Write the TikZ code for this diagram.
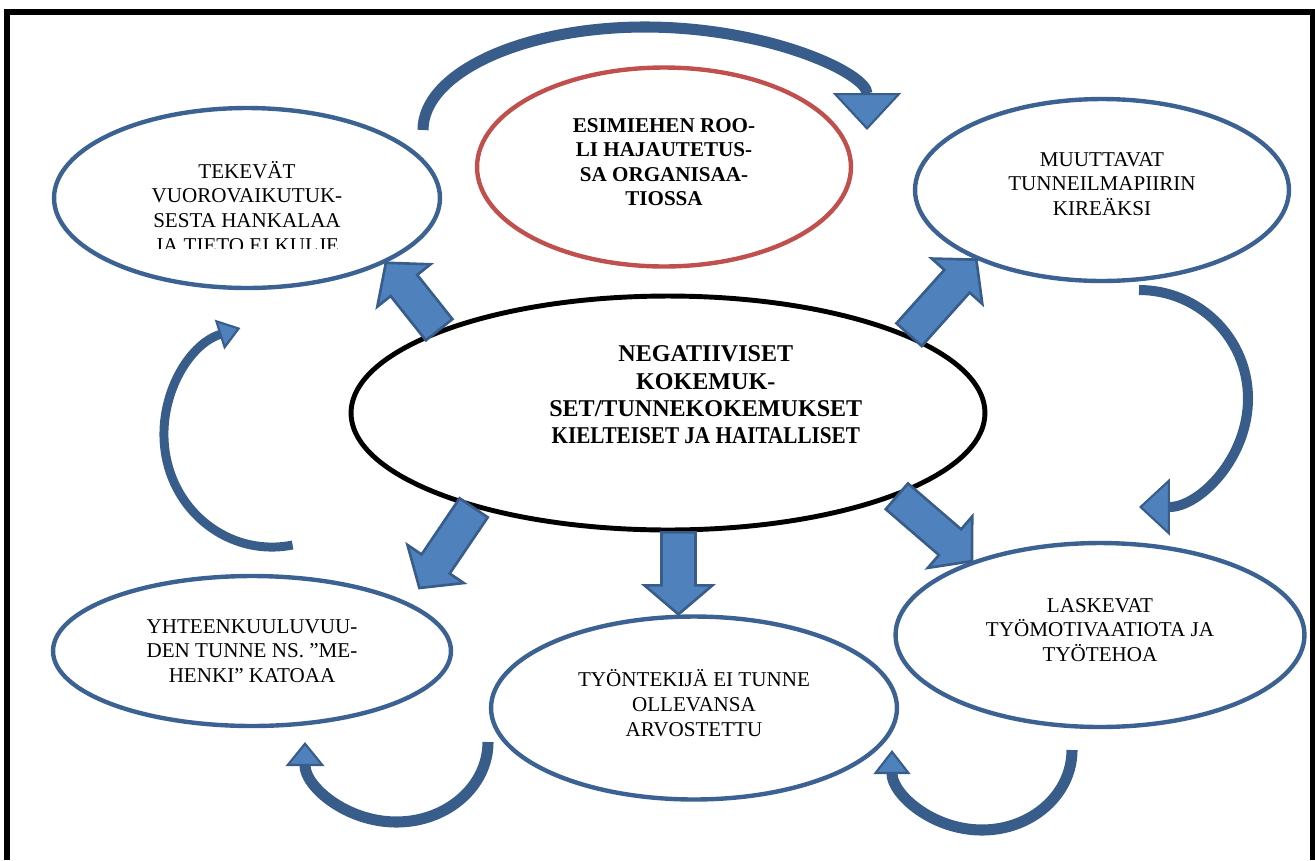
\documentclass[tikz,border=0pt]{standalone}
\usepackage{fontspec}
\setmainfont{Liberation Serif}
\usepackage{tikz}
\usetikzlibrary{shapes.geometric, arrows.meta, calc}

\definecolor{ovalblue}{RGB}{60,98,147}
\definecolor{arrfill}{RGB}{79,129,189}
\definecolor{arredge}{RGB}{56,93,138}
\definecolor{ovalred}{RGB}{192,80,77}

\newcommand{\padtop}[1]{\rule{0pt}{#1}}
\newcommand{\padbot}[1]{\rule[-#1]{0pt}{0pt}}
\newcommand{\padleft}{\hspace*{43pt}}
\newcommand{\blockarrow}[2]{%
  \path (#1) coordinate (ba-t) (#2) coordinate (ba-h);
  \path ($(ba-h)!0.58cm!(ba-t)$) coordinate (ba-b);
  \draw[blockarr] ($(ba-t)!0.34cm!90:(ba-h)$) -- ($(ba-b)!0.34cm!-90:(ba-t)$)
    -- ($(ba-b)!0.68cm!-90:(ba-t)$) -- (ba-h) -- ($(ba-b)!0.68cm!90:(ba-t)$)
    -- ($(ba-b)!0.34cm!90:(ba-t)$) -- ($(ba-t)!0.34cm!-90:(ba-h)$) -- cycle;
}

\begin{document}
\begin{tikzpicture}[x=0.02cm, y=-0.02cm,
    frame/.style={draw=black, line width=3.4pt, line join=miter},
    oval/.style={ellipse, draw=ovalblue, line width=2.5pt, inner sep=0pt, align=center,
      font=\fontsize{12}{14}\selectfont},
    blockarr/.style={fill=arrfill, draw=arredge, line width=1.5pt, line join=miter},
    curvarr/.style n args={3}{draw=arredge, line width=#1,
      -{Triangle[width=#2, length=#3, fill=arrfill, line width=1.2pt]}}]
    \useasboundingbox (0,0) rectangle (1315,860);
    \draw[frame] (7,860) -- (7,12) -- (1313,12) -- (1313,860);

    \node[oval, minimum width=7.72cm, minimum height=3.6cm] (tek) at (247,198)
        {\padtop{19.7pt}TEKEVÄT\\VUOROVAIKUTUK-\\SESTA HANKALAA\\JA TIETO EI KULJE};
    \fill[white] ($(tek.center)+(-110,50.5)$) rectangle ($(tek.center)+(110,60)$);
    \node[oval, draw=ovalred, minimum width=7.48cm, minimum height=3.98cm,
        font=\bfseries\fontsize{12}{14}\selectfont] (esi) at (664,167)
        {ESIMIEHEN ROO-\\LI HAJAUTETUS-\\SA ORGANISAA-\\TIOSSA\padbot{5.7pt}};
    \node[oval, minimum width=7.48cm, minimum height=3.64cm] (muu) at (1102,190)
        {MUUTTAVAT\\TUNNEILMAPIIRIN\\KIREÄKSI\padbot{6.8pt}};
    \node[oval, draw=black, line width=2.8pt, minimum width=12.68cm, minimum height=4.68cm,
        font=\bfseries\fontsize{13.7}{15.4}\selectfont] (neg) at (668,413)
        {\padleft NEGATIIVISET\\\padleft KOKEMUK-\\\padleft SET/TUNNEKOKEMUKSET\\
         \padleft\scalebox{0.88}[1]{KIELTEISET JA HAITALLISET}\padbot{21pt}};
    \node[oval, minimum width=7.96cm, minimum height=3cm] (yht) at (252,651)
        {YHTEENKUULUVUU-\\DEN TUNNE NS. ”ME-\\HENKI” KATOAA};
    \node[oval, minimum width=8.12cm, minimum height=3.66cm] (tyo) at (694,708)
        {TYÖNTEKIJÄ EI TUNNE\\OLLEVANSA\\ARVOSTETTU\padbot{5.7pt}};
    \node[oval, minimum width=8.18cm, minimum height=3.68cm] (las) at (1100,635)
        {LASKEVAT\\TYÖMOTIVAATIOTA JA\\TYÖTEHOA\padbot{5.7pt}};

    \blockarrow{neg.160}{tek.-25}
    \blockarrow{neg.18}{muu.209}
    \blockarrow{neg.206}{$(yht.17)!0.36cm!(neg.206)$}
    \blockarrow{neg.-85}{neg.-85 |- tyo.north}
    \blockarrow{neg.-20}{las.150}

    \coordinate (toploop) at (423,130);
    \coordinate (rightloop) at (1139,290);
    \coordinate (lasloop) at (1072,750);
    \coordinate (tyoloop) at (488,742);
    \coordinate (leftloop) at (292.6,545);
    \draw[curvarr={6.3pt}{38.7pt}{21pt}] (toploop)
        arc[start angle=180, end angle=360, x radius=222, y radius=103];
    \draw[curvarr={5.7pt}{32.4pt}{17.6pt}] (rightloop)
        arc[start angle=270, end angle=450, x radius=109, y radius=108.5];
    \draw[curvarr={6.3pt}{21pt}{13.7pt}] (lasloop)
        arc[start angle=0, end angle=180, x radius=90, y radius=80];
    \draw[curvarr={6.3pt}{22pt}{13.7pt}] (tyoloop)
        arc[start angle=0, end angle=180, x radius=91.5, y radius=80];
    \draw[curvarr={5.1pt}{17.6pt}{12.5pt}] (leftloop)
        arc[start angle=79, end angle=253, x radius=108, y radius=112];
\end{tikzpicture}
\end{document}
